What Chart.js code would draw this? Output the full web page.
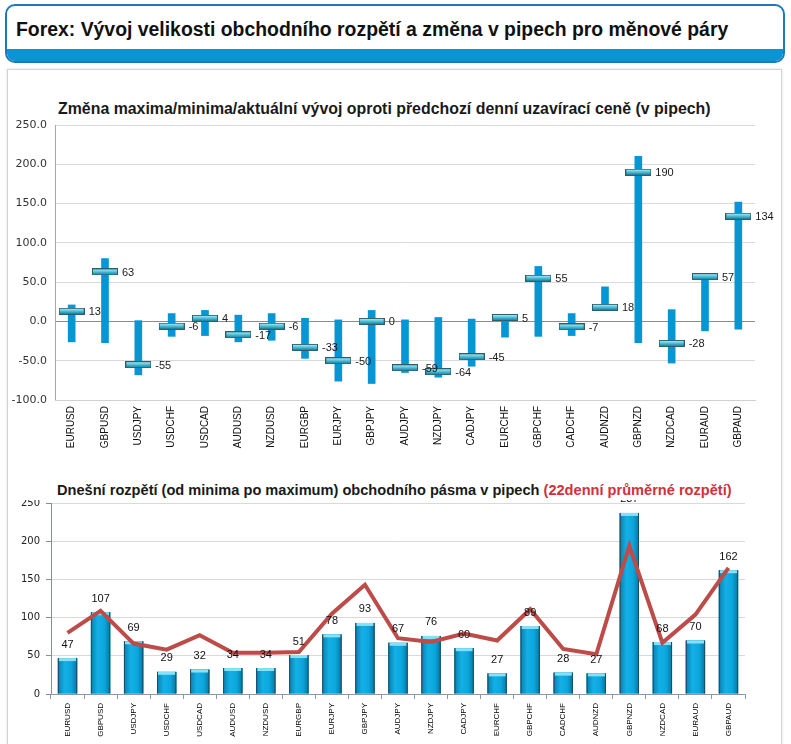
<!DOCTYPE html>
<html lang="cs">
<head>
<meta charset="utf-8">
<script src="https://cdn.jsdelivr.net/npm/chart.js@4.4.1/dist/chart.umd.min.js"></script>
<style>
  body { margin: 0; width: 791px; height: 744px; background: #fff; position: relative; overflow: hidden; font-family: "Liberation Sans", Arial, sans-serif; }
  .header { position: absolute; left: 5px; top: 4px; width: 776px; height: 55px; border: 2px solid #1d78bd; border-radius: 10px; overflow: hidden; background: #fff; }
  .header h1 { margin: 0; position: absolute; left: 9px; top: 12px; line-height: 23px; font-size: 19.4px; font-weight: bold; color: #111; white-space: nowrap; }
  .header .band { position: absolute; left: 0; right: 0; bottom: 0; height: 12px; background: #0d93d2; }
  .panel { position: absolute; left: 7px; top: 69px; width: 773px; height: 690px; border: 1px solid #d4d4d4; box-shadow: 0 0 3px rgba(0,0,0,.12); }
  .title { position: absolute; font-weight: bold; line-height: 18px; color: #1a1a1a; white-space: nowrap; }
  .title .red { color: #d2303a; }
  canvas { position: absolute; left: 0; }
</style>
</head>
<body>
<div class="header"><h1>Forex: Vývoj velikosti obchodního rozpětí a změna v pipech pro měnové páry</h1><div class="band"></div></div>
<div class="panel"></div>
<div class="title" style="left:58px; top:100px; font-size:15.9px;">Změna maxima/minima/aktuální vývoj oproti předchozí denní uzavírací ceně (v pipech)</div>
<canvas id="changeChart" width="791" height="340" style="top:112px;"></canvas>
<div class="title" style="left:57px; top:481px; font-size:14.6px;">Dnešní rozpětí (od minima po maximum) obchodního pásma v pipech <span class="red">(22denní průměrné rozpětí)</span></div>
<canvas id="rangeChart" width="791" height="244" style="top:500px;"></canvas>
<script>
// --- data ---
const pairs = ['EURUSD', 'GBPUSD', 'USDJPY', 'USDCHF', 'USDCAD', 'AUDUSD', 'NZDUSD', 'EURGBP', 'EURJPY', 'GBPJPY', 'AUDJPY',
  'NZDJPY', 'CADJPY', 'EURCHF', 'GBPCHF', 'CADCHF', 'AUDNZD', 'GBPNZD', 'NZDCAD', 'EURAUD', 'GBPAUD'];
const highs = [21, 80, 1, 10, 14, 8, 10, 4, 2, 14, 2, 5, 3, 7, 70, 10, 44, 210, 15, 58, 152];
const lows = [-26, -27, -68, -19, -18, -26, -24, -47, -76, -79, -65, -71, -57, -20, -19, -18, 17, -27, -53, -12, -10];
const current = [13, 63, -55, -6, 4, -17, -6, -33, -50, 0, -59, -64, -45, 5, 55, -7, 18, 190, -28, 57, 134];
const todayRange = [47, 107, 69, 29, 32, 34, 34, 51, 78, 93, 67, 76, 60, 27, 89, 28, 27, 237, 68, 70, 162];
const avgRange22 = [80, 109, 66, 58, 77, 54, 54, 55, 105, 143, 73, 68, 79, 70, 111, 59, 52, 194, 67, 104, 165];

// marker for the current value (small 3d bar)
function makeMarker() {
  const c = document.createElement('canvas');
  c.width = 26; c.height = 7;
  const g = c.getContext('2d');
  g.fillStyle = '#2f5f66';
  g.fillRect(0, 0, 26, 7);
  const grad = g.createLinearGradient(0, 1, 0, 6);
  grad.addColorStop(0, '#a4e8f7');
  grad.addColorStop(0.45, '#52c2de');
  grad.addColorStop(1, '#1c88a6');
  g.fillStyle = grad;
  g.fillRect(1, 1, 24, 5);
  return c;
}

// strip the extra padding Chart.js adds for tick labels
const fixY = w => s => { s.width = w; s.paddingTop = 0; s.paddingBottom = 0; };
const fixX = h => s => { s.height = h; s.paddingLeft = 0; s.paddingRight = 0; };

const currentLabels = {
  id: 'currentLabels',
  afterDatasetsDraw(chart) {
    const ctx = chart.ctx;
    const meta = chart.getDatasetMeta(1);
    ctx.save();
    ctx.font = '11px "Liberation Sans", Arial, sans-serif';
    ctx.fillStyle = '#1a1a1a';
    ctx.textAlign = 'left';
    ctx.textBaseline = 'middle';
    meta.data.forEach((pt, i) => ctx.fillText(String(current[i]), pt.x + 17, pt.y + 1));
    ctx.restore();
  }
};

new Chart(document.getElementById('changeChart'), {
  type: 'bar',
  data: {
    labels: pairs,
    datasets: [
      {
        type: 'bar',
        data: lows.map((l, i) => [l, highs[i]]),
        backgroundColor: '#0796d4',
        barThickness: 7,
        order: 1
      },
      {
        type: 'line',
        data: current,
        showLine: false,
        pointStyle: makeMarker(),
        pointRadius: 12,
        order: 0
      }
    ]
  },
  options: {
    responsive: false,
    animation: false,
    layout: { padding: { top: 8, right: 36, left: 0, bottom: 0 } },
    plugins: { legend: { display: false }, tooltip: { enabled: false } },
    scales: {
      y: {
        min: -100, max: 250,
        afterFit: fixY(55),
        ticks: {
          stepSize: 50, padding: 8, color: '#333',
          font: { family: '"DejaVu Sans", Verdana, sans-serif', size: 11 },
          callback: v => v.toFixed(1)
        },
        grid: { drawTicks: false, color: c => c.tick && c.tick.value === 0 ? '#8c8c8c' : '#d9d9d9' },
        border: { color: '#a6a6a6' }
      },
      x: {
        afterFit: fixX(52),
        grid: { display: false, drawTicks: false },
        border: { color: '#d0d0d0' },
        ticks: {
          minRotation: 90, maxRotation: 90, padding: 6, color: '#111', autoSkip: false,
          font: { family: '"Liberation Sans", Arial, sans-serif', size: 10 }
        }
      }
    }
  },
  plugins: [currentLabels]
});

// bottom chart: shading for the bars + value labels
const barStyle = {
  id: 'barStyle',
  afterDatasetDraw(chart, args) {
    if (args.index !== 1) return;
    const ctx = chart.ctx;
    ctx.save();
    args.meta.data.forEach(bar => {
      const l = bar.x - bar.width / 2, w = bar.width, t = bar.y, h = bar.base - bar.y;
      const grad = ctx.createLinearGradient(l, 0, l + w, 0);
      grad.addColorStop(0, '#0a7eae');
      grad.addColorStop(0.35, '#13b0e6');
      grad.addColorStop(0.7, '#0ba6dd');
      grad.addColorStop(1, '#07769f');
      ctx.fillStyle = grad;
      ctx.fillRect(l, t, w, h);
      ctx.fillStyle = '#86e0f7';
      ctx.fillRect(l + 1, t, w - 2, 3);
      ctx.fillStyle = '#1d4c63';
      ctx.fillRect(l, t, 1, h);
      ctx.fillRect(l + w - 1, t, 1, h);
    });
    ctx.restore();
  },
  afterDatasetsDraw(chart) {
    const ctx = chart.ctx;
    const meta = chart.getDatasetMeta(1);
    ctx.save();
    ctx.font = '11px "Liberation Sans", Arial, sans-serif';
    ctx.fillStyle = '#111';
    ctx.textAlign = 'center';
    ctx.textBaseline = 'middle';
    meta.data.forEach((bar, i) => ctx.fillText(String(todayRange[i]), bar.x, bar.y - 13.5));
    ctx.restore();
  }
};

new Chart(document.getElementById('rangeChart'), {
  type: 'bar',
  data: {
    labels: pairs,
    datasets: [
      {
        type: 'line',
        data: avgRange22,
        borderColor: '#bd4b48',
        borderWidth: 4,
        pointRadius: 0,
        tension: 0,
        order: 0
      },
      {
        type: 'bar',
        data: todayRange,
        backgroundColor: '#0ba6dd',
        barPercentage: 0.75,
        categoryPercentage: 0.78,
        order: 1
      }
    ]
  },
  options: {
    responsive: false,
    animation: false,
    layout: { padding: { top: 3, right: 46, left: 0, bottom: 0 } },
    plugins: { legend: { display: false }, tooltip: { enabled: false } },
    scales: {
      y: {
        min: 0, max: 250,
        afterFit: fixY(51),
        ticks: {
          stepSize: 50, padding: 6, color: '#222',
          font: { family: '"DejaVu Sans", Verdana, sans-serif', size: 10 }
        },
        grid: { tickLength: 5, color: '#d9d9d9', tickColor: '#7f8fa6' },
        border: { color: '#7f8fa6' }
      },
      x: {
        afterFit: fixX(50),
        grid: { drawOnChartArea: false, tickLength: 5, color: '#8a98ab' },
        border: { color: '#8a98ab' },
        ticks: {
          minRotation: 90, maxRotation: 90, padding: 4, color: '#000', autoSkip: false,
          font: { family: '"Liberation Sans", Arial, sans-serif', size: 8 }
        }
      }
    }
  },
  plugins: [barStyle]
});
</script>
</body>
</html>
